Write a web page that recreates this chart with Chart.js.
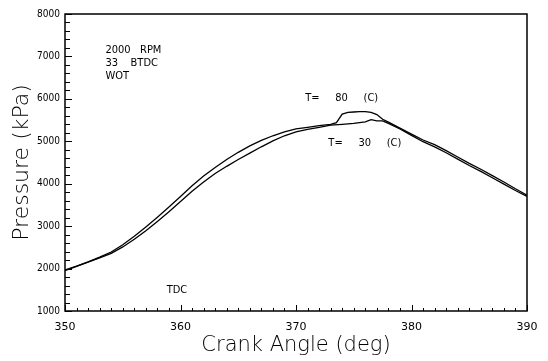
<!DOCTYPE html>
<html>
<head>
    <title>Cylinder Pressure</title>
    <style>
        body { margin: 0; background: #fff; }
        #wrap { width: 548px; height: 361px; }
    </style>
</head>
<body>
    <div id="wrap"><canvas id="pressureChart" width="548" height="361"></canvas></div>

    <script src="https://cdn.jsdelivr.net/npm/chart.js"></script>
    <script>
        // values
        const angle80 = [350, 351, 352, 353, 354, 355, 356, 357, 358, 359, 360, 361, 362, 363, 364, 365, 366, 367, 368, 369, 370, 371, 372, 373, 373.5, 374, 374.5, 375, 375.5, 376, 376.5, 377, 377.5, 378, 379, 380, 381, 382, 383, 384, 385, 386, 387, 388, 389, 390];
        const p80 = [1970, 2060, 2160, 2270, 2390, 2560, 2760, 2980, 3210, 3450, 3700, 3950, 4180, 4380, 4570, 4740, 4890, 5020, 5130, 5220, 5290, 5330, 5370, 5400, 5440, 5640, 5680, 5690, 5700, 5700, 5680, 5630, 5520, 5450, 5310, 5170, 5030, 4920, 4780, 4630, 4480, 4340, 4190, 4040, 3880, 3730];

        const angle30 = [350, 351, 352, 353, 354, 355, 356, 357, 358, 359, 360, 361, 362, 363, 364, 365, 366, 367, 368, 369, 370, 371, 372, 373, 374, 375, 376, 376.5, 377, 377.5, 378, 379, 380, 381, 382, 383, 384, 385, 386, 387, 388, 389, 390];
        const p30 = [1950, 2050, 2150, 2250, 2360, 2510, 2690, 2890, 3110, 3340, 3580, 3820, 4040, 4240, 4410, 4570, 4720, 4870, 5010, 5130, 5220, 5280, 5330, 5380, 5400, 5420, 5460, 5510, 5480, 5480, 5420, 5290, 5140, 4990, 4870, 4730, 4580, 4430, 4290, 4140, 3990, 3840, 3700];

        const yTicks = [1000, 2000, 3000, 4000, 5000, 6000, 7000, 8000];
        const xTicks = [350, 360, 370, 380, 390];

        // text labels placed in data units
        const notes = [
            { text: '2000   RPM', x: 353.5, y: 7150 },
            { text: '33    BTDC', x: 353.5, y: 6845 },
            { text: 'WOT', x: 353.5, y: 6540 },
            { text: 'T=     80     (C)', x: 370.8, y: 6020 },
            { text: 'T=     30     (C)', x: 372.8, y: 4960 },
            { text: 'TDC', x: 358.8, y: 1495 }
        ];

        const toPoints = (xs, ys) => xs.map((x, i) => ({ x: x, y: ys[i] }));

        const frame = {
            id: 'frame',
            afterDatasetsDraw(chart) {
                const ctx = chart.ctx;
                const a = chart.chartArea;
                const xs = chart.scales.x, ys = chart.scales.y;
                ctx.save();
                ctx.strokeStyle = '#000';
                ctx.lineWidth = 1.5;
                ctx.strokeRect(a.left, a.top, a.right - a.left, a.bottom - a.top);

                // inward ticks, left and bottom
                ctx.lineWidth = 1;
                ctx.beginPath();
                for (let v = 1000; v <= 8000; v += 200) {
                    const py = Math.round(ys.getPixelForValue(v)) + 0.5;
                    const len = v % 1000 === 0 ? 7 : 5;
                    ctx.moveTo(a.left, py);
                    ctx.lineTo(a.left + len, py);
                }
                for (let v = 350; v <= 390; v += 1) {
                    const px = Math.round(xs.getPixelForValue(v)) + 0.5;
                    const len = v % 10 === 0 ? 6 : 3;
                    ctx.moveTo(px, a.bottom);
                    ctx.lineTo(px, a.bottom - len);
                }
                ctx.stroke();

                ctx.fillStyle = '#000';
                ctx.font = '11px "DejaVu Sans Condensed", "DejaVu Sans"';
                ctx.textAlign = 'left';
                ctx.textBaseline = 'middle';
                notes.forEach(n => {
                    ctx.fillText(n.text, xs.getPixelForValue(n.x), ys.getPixelForValue(n.y));
                });
                ctx.restore();
            }
        };

        const ctx = document.getElementById('pressureChart').getContext('2d');
        new Chart(ctx, {
            type: 'line',
            data: {
                datasets: [
                    {
                        label: 'T= 80 (C)',
                        data: toPoints(angle80, p80),
                        borderColor: '#000',
                        borderWidth: 1.3,
                        pointRadius: 0,
                        tension: 0,
                        fill: false
                    },
                    {
                        label: 'T= 30 (C)',
                        data: toPoints(angle30, p30),
                        borderColor: '#000',
                        borderWidth: 1.3,
                        pointRadius: 0,
                        tension: 0,
                        fill: false
                    }
                ]
            },
            options: {
                responsive: false,
                animation: false,
                events: [],
                layout: { padding: { left: 0, right: 21, top: 14, bottom: 0 } },
                plugins: {
                    legend: { display: false },
                    tooltip: { enabled: false }
                },
                scales: {
                    x: {
                        type: 'linear',
                        min: 350,
                        max: 390,
                        afterFit: s => { s.height = 50; },
                        afterBuildTicks: s => { s.ticks = xTicks.map(v => ({ value: v })); },
                        grid: { display: false, drawTicks: false },
                        border: { display: false },
                        ticks: {
                            color: '#000', padding: 10,
                            font: { family: 'DejaVu Sans', size: 11 },
                            callback: v => String(v)
                        },
                        title: {
                            display: true,
                            text: 'Crank Angle (deg)',
                            color: '#000',
                            padding: { top: 0, bottom: 3 },
                            font: { family: 'DejaVu Sans', size: 21, weight: 300 }
                        }
                    },
                    y: {
                        min: 1000,
                        max: 8000,
                        afterFit: s => { s.width = 65; },
                        afterBuildTicks: s => { s.ticks = yTicks.map(v => ({ value: v })); },
                        grid: { display: false, drawTicks: false },
                        border: { display: false },
                        ticks: {
                            color: '#000', padding: 5,
                            font: { family: 'DejaVu Sans Condensed', size: 10 },
                            callback: v => String(v)
                        },
                        title: {
                            display: true,
                            text: 'Pressure (kPa)',
                            color: '#000',
                            padding: { top: 9, bottom: 0 },
                            font: { family: 'DejaVu Sans', size: 22, weight: 300 }
                        }
                    }
                }
            },
            plugins: [frame]
        });
    </script>
</body>
</html>
